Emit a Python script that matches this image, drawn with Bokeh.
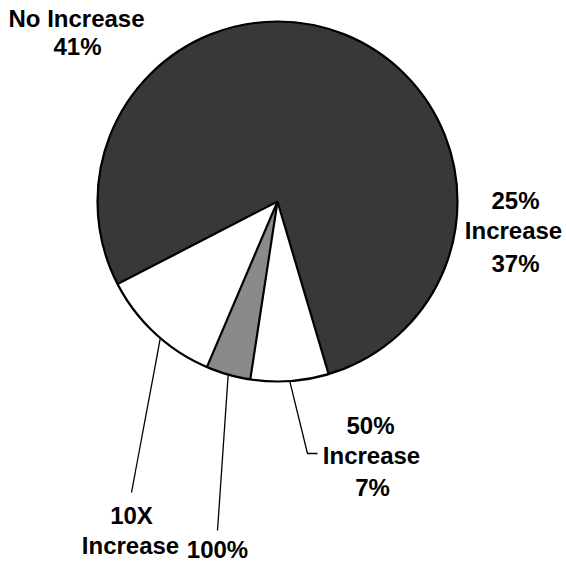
import math
from bokeh.plotting import figure
from bokeh.models import ColumnDataSource
from bokeh.core.properties import value
from bokeh.embed import file_html
from bokeh.resources import INLINE

# ---- data (clockwise order, starting with "25% Increase") ----
categories = ["25% Increase", "50% Increase", "100%", "10X Increase", "No Increase"]
percents = [37, 7, 4, 11, 41]
fills = ["#383838", "#ffffff", "#8a8a8a", "#ffffff", "#383838"]
label_lines = [["25%", "Increase", "37%"], ["50%", "Increase", "7%"], ["100%"],
               ["10X", "Increase"], ["No Increase", "41%"]]

# ---- layout (pixel-like data units, y up) ----
W, H = 566, 563
CX, CY, R = 277, 362, 180
START_DEG = 59.7

p = figure(width=W, height=H, x_range=(0, W), y_range=(0, H),
           output_backend="svg", toolbar_location=None, min_border=0)
p.axis.visible = False
p.grid.visible = False
p.outline_line_color = None
p.background_fill_color = "white"
p.border_fill_color = "white"

starts, ends = [], []
a = math.radians(START_DEG)
for v in percents:
    starts.append(a)
    a -= v / 100 * 2 * math.pi
    ends.append(a)

src = ColumnDataSource(dict(cat=categories, start=starts, end=ends, fill=fills,
                            x=[CX] * len(categories), y=[CY] * len(categories)))
p.wedge(x="x", y="y", radius=R, start_angle="start", end_angle="end",
        direction="clock", fill_color="fill", line_color="fill", line_width=1,
        source=src)

# boundaries (no visible line between the two dark slices at the top)
bx0, by0, bx1, by1 = [], [], [], []
for e in ends[:-1]:
    bx0.append(CX); by0.append(CY)
    bx1.append(CX + R * math.cos(e)); by1.append(CY + R * math.sin(e))
p.segment(x0=bx0, y0=by0, x1=bx1, y1=by1, line_color="black", line_width=2.2)

# outline
p.circle(x=[CX], y=[CY], radius=R, fill_color=None, line_color="black", line_width=2.2)

def mid(i):
    return (starts[i] + ends[i]) / 2

# leader lines
m = mid(1)
sx, sy = CX + R * math.cos(m), CY + R * math.sin(m)
p.line(x=[sx, 307, 317], y=[sy, 110, 110], line_color="black", line_width=1.3)
m = mid(2)
sx, sy = CX + R * math.cos(m), CY + R * math.sin(m)
p.line(x=[sx, 217], y=[sy, 33], line_color="black", line_width=1.3)
m = mid(3) + 0.04
sx, sy = CX + R * math.cos(m), CY + R * math.sin(m)
p.line(x=[sx, 131], y=[sy, 71], line_color="black", line_width=1.3)

font = value("Liberation Sans")
def put(x, y, txt, size="24px"):
    p.text(x=[x], y=[y], text=[txt], text_font=font, text_font_size=size,
           text_font_style="bold", text_align="center", text_baseline="middle",
           text_color="black")

# 25% Increase
put(515, 363, label_lines[0][0]); put(513, 333, label_lines[0][1]); put(515, 300, label_lines[0][2])
# 50% Increase
put(370, 138, label_lines[1][0]); put(371, 108, label_lines[1][1]); put(372, 76, label_lines[1][2])
# 100%
put(217, 14, label_lines[2][0])
# 10X Increase
put(131, 48, label_lines[3][0]); put(130, 18, label_lines[3][1])
# No Increase
put(76, 545, label_lines[4][0]); put(77, 517, label_lines[4][1])

open("out.html", "w").write(file_html(p, INLINE))
